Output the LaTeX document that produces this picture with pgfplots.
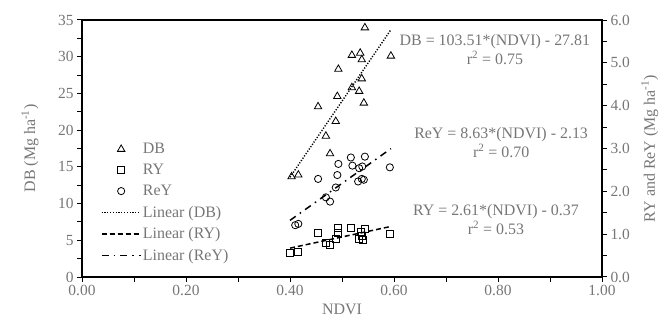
\documentclass[border=0pt]{standalone}
\usepackage{fontspec}
\setmainfont{Liberation Serif}
\usepackage{pgfplots}
\usepackage{pgfplotstable}
\pgfplotsset{compat=1.18}
\definecolor{txt}{RGB}{118,118,118}

\pgfplotstableread{
x y
0.544 33.95
0.519 30.2
0.535 30.5
0.538 29.6
0.594 30.1
0.493 28.3
0.538 27.0
0.519 25.8
0.533 25.3
0.491 24.6
0.542 23.7
0.454 23.2
0.488 21.2
0.469 19.2
0.477 16.8
0.403 13.66
0.416 13.9
}\DBdata

\pgfplotstableread{
x y
0.400 0.57
0.416 0.59
0.454 1.04
0.469 0.80
0.477 0.76
0.488 0.88
0.493 1.14
0.492 1.03
0.517 1.14
0.536 1.06
0.544 1.12
0.533 0.90
0.541 0.86
0.539 0.97
0.592 1.00
}\RYdata

\pgfplotstableread{
x y
0.410 1.21
0.416 1.24
0.454 2.29
0.469 1.86
0.477 1.76
0.488 2.09
0.491 2.38
0.493 2.64
0.517 2.79
0.520 2.60
0.533 2.54
0.539 2.58
0.531 2.23
0.538 2.29
0.542 2.27
0.544 2.81
0.592 2.56
}\ReYdata

\begin{document}
\begin{tikzpicture}
\useasboundingbox (0,0) rectangle (666bp,328bp);
\pgfplotsset{
  common/.style={
    scale only axis, width=520bp, height=257bp,
    at={(82bp,51bp)}, anchor=south west,
    xmin=0, xmax=1,
    axis line style={line width=1.3bp, black},
    tick style={black, line width=1bp},
    tick align=outside,
    major tick length=5bp, minor tick length=5bp,
    tick label style={font=\fontsize{15.5}{18}\selectfont, color=txt},
    label style={font=\fontsize{16}{19}\selectfont, color=txt},
    /pgf/number format/assume math mode=true,
  },
  mk/.style={black, mark options={solid, line width=0.8bp, black}},
}
\begin{axis}[common,
  ymin=0, ymax=35,
  ytick distance=5, minor y tick num=1,
  xtick distance=0.2, minor x tick num=1,
  xtick pos=bottom, ytick pos=left,
  xticklabel={\pgfmathprintnumber[fixed,fixed zerofill,precision=2]{\tick}},
  yticklabel={\pgfmathprintnumber[fixed,precision=0]{\tick}},
  xlabel={NDVI},
  ylabel={DB (Mg ha\textsuperscript{-1})},
  xlabel style={at={(axis description cs:0.5,-0.128)}, anchor=center},
  ylabel style={at={(axis description cs:-0.1,0.5)}, anchor=center},
]
\addplot[only marks, mark=triangle, mark size=4.3bp, mk] table {\DBdata};
\addplot[black, line width=1.4bp, dash pattern=on 1.2bp off 1.6bp] coordinates {(0.40,13.594) (0.594,33.677)};
\node[font=\fontsize{16}{19}\selectfont, text=txt, align=center] at (rel axis cs:0.794,0.885) {DB = 103.51*(NDVI) - 27.81\\r\textsuperscript{2} = 0.75};
\node[font=\fontsize{16}{19}\selectfont, text=txt, align=center] at (rel axis cs:0.806,0.523) {ReY = 8.63*(NDVI) - 2.13\\r\textsuperscript{2} = 0.70};
\node[font=\fontsize{16}{19}\selectfont, text=txt, align=center] at (rel axis cs:0.796,0.222) {RY = 2.61*(NDVI) - 0.37\\r\textsuperscript{2} = 0.53};
\end{axis}

\begin{axis}[common,
  axis x line=none, axis y line*=right,
  ymin=0, ymax=6,
  ytick distance=1, minor y tick num=1,
  yticklabel={\pgfmathprintnumber[fixed,fixed zerofill,precision=1]{\tick}},
  ylabel={RY and ReY (Mg ha\textsuperscript{-1})},
  ylabel style={at={(axis description cs:1.092,0.5)}, anchor=center, rotate=0},
  legend image code/.code={\draw[mark repeat=2,mark phase=2,#1] plot coordinates {(0bp,0bp) (19.5bp,0bp) (39bp,0bp)};},
  legend style={at={(rel axis cs:0.036,0.527)}, anchor=north west, draw=none, fill=none,
    font=\fontsize{16}{19}\selectfont, text=txt, inner sep=0pt, row sep=6bp,
    nodes={inner sep=1.5bp}},
  legend cell align=left,
]
\addlegendimage{only marks, mark=triangle, mark size=4.3bp, mk}
\addlegendentry{DB}
\addplot[only marks, mark=square, mark size=3.5bp, mk] table {\RYdata};
\addlegendentry{RY}
\addplot[only marks, mark=o, mark size=3.6bp, mk] table {\ReYdata};
\addlegendentry{ReY}
\addlegendimage{black, line width=1.4bp, dash pattern=on 1.2bp off 1.6bp}
\addlegendentry{Linear (DB)}
\addplot[black, line width=1.5bp, dash pattern=on 5bp off 3bp] coordinates {(0.40,0.674) (0.594,1.180)};
\addlegendentry{Linear (RY)}
\addplot[black, line width=1.5bp, dash pattern=on 7bp off 5bp on 1.5bp off 5bp] coordinates {(0.40,1.322) (0.594,2.996)};
\addlegendentry{Linear (ReY)}
\end{axis}
\end{tikzpicture}
\end{document}
